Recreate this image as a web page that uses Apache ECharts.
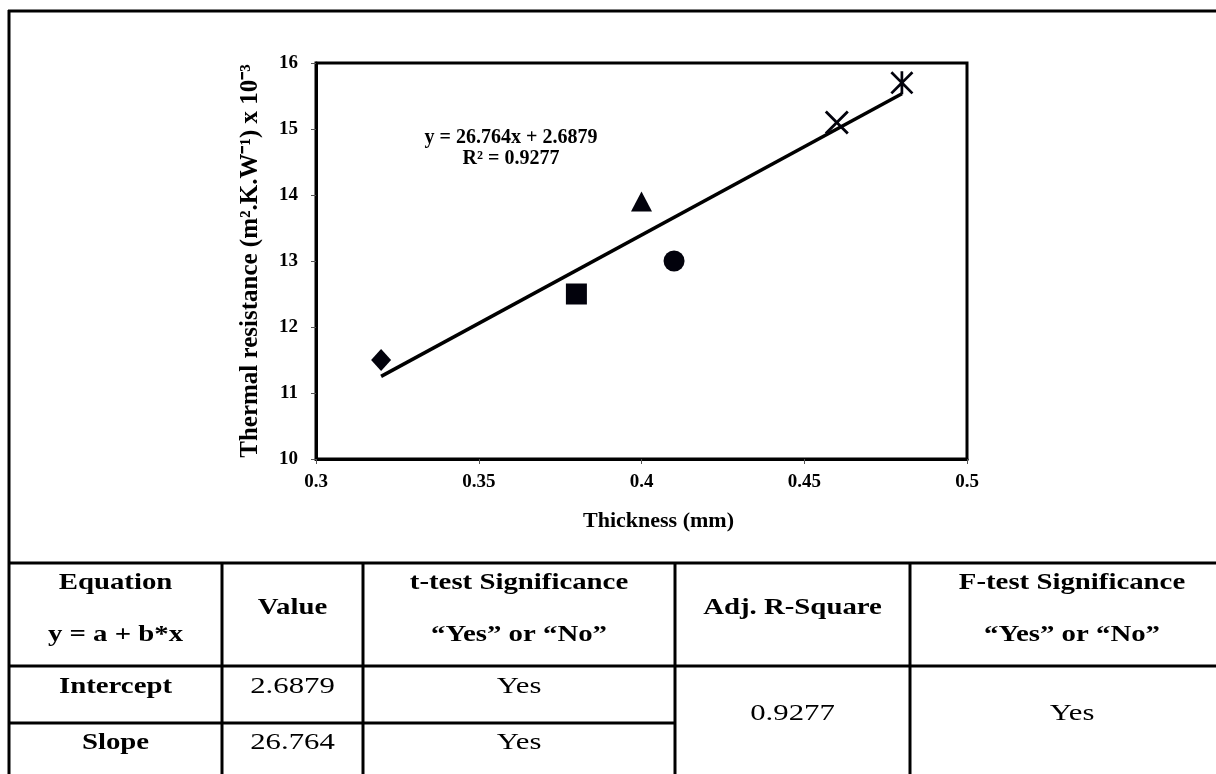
<!DOCTYPE html>
<html>
<head>
<meta charset="utf-8">
<script src="https://cdn.jsdelivr.net/npm/echarts@6/dist/echarts.min.js"></script>
<style>
  html, body { margin: 0; padding: 0; background: #fff; }
  #chart { width: 1216px; height: 774px; }
</style>
</head>
<body>
<div id="chart"></div>
<script>
// Measured samples: thickness (mm) and thermal resistance (m².K.W⁻¹ x 10⁻³)
const diamondPts  = [[0.32, 11.5]];
const squarePts   = [[0.38, 12.5]];
const trianglePts = [[0.40, 13.9]];
const circlePts   = [[0.41, 13.0]];
const crossPts    = [[0.46, 15.1]];
const starPts     = [[0.48, 15.7]];

// Linear fit reported on the chart
const fitSlope = 26.764;
const fitIntercept = 2.6879;
const fitR2 = 0.9277;
const fitRange = [0.32, 0.48];

// Axis ticks
const xTicks = [0.3, 0.35, 0.4, 0.45, 0.5];
const yTicks = [10, 11, 12, 13, 14, 15, 16];

// Regression summary table
const tableHeader = [
  ['Equation', 'y = a + b*x'],
  ['Value'],
  ['t-test Significance', '\u201cYes\u201d or \u201cNo\u201d'],
  ['Adj. R-Square'],
  ['F-test Significance', '\u201cYes\u201d or \u201cNo\u201d']
];
const rowNames = ['Intercept', 'Slope'];
const rowValues = ['2.6879', '26.764'];
const rowTTest = ['Yes', 'Yes'];
const adjR2Text = '0.9277';
const fTestText = 'Yes';

const fitLine = fitRange.map(x => [x, fitSlope * x + fitIntercept]);

const serif = '"Liberation Serif", "Times New Roman", serif';
const ink = '#000';

// cross (x) and asterisk glyphs as filled paths
const crossPath = 'path://M2,0 L12,10 L22,0 L24,2 L14,12 L24,22 L22,24 L12,14 L2,24 L0,22 L10,12 L0,2 Z';
const starPath = 'path://M2,0 L12,10 L22,0 L24,2 L14,12 L24,22 L22,24 L12,14 L2,24 L0,22 L10,12 L0,2 Z M10.6,0 L13.4,0 L13.4,24 L10.6,24 Z';

// Table geometry (last column runs past the right edge of the page)
const tTop = 563, tRow1 = 666, tRow2 = 723, tBottom = 774;
const cols = [9, 222, 363, 675, 910, 1234];
const tableFontB = 'bold 24px ' + serif;
const tableFontR = '24px ' + serif;

// table type is set a little wide, as in the printed layout
function cellText(text, cx, cy, bold) {
  return {
    type: 'text', x: cx, y: cy, scaleX: bold ? 1.2 : 1.28, originX: 0, originY: 0,
    style: { text: text, x: 0, y: 0, font: bold ? tableFontB : tableFontR,
             fill: ink, textAlign: 'center', textVerticalAlign: 'middle' },
    z: 10
  };
}
function hLine(x1, x2, y) {
  return { type: 'line', shape: { x1: x1, y1: y, x2: x2, y2: y },
           style: { stroke: ink, lineWidth: 3 }, z: 10 };
}
function vLine(x, y1, y2) {
  return { type: 'line', shape: { x1: x, y1: y1, x2: x, y2: y2 },
           style: { stroke: ink, lineWidth: 3 }, z: 10 };
}

const graphics = [];
// outer frame (top and left edges) and table rules
graphics.push(hLine(8, 1216, 11));
graphics.push(vLine(9, 10, 774));
graphics.push(hLine(8, 1216, tTop));
graphics.push(hLine(8, 1216, tRow1));
graphics.push(hLine(8, cols[3], tRow2));
for (let i = 1; i < 5; i++) graphics.push(vLine(cols[i], tTop, tBottom));

// header cells
tableHeader.forEach((lines, i) => {
  const cx = (cols[i] + cols[i + 1]) / 2;
  if (lines.length === 2) {
    graphics.push(cellText(lines[0], cx, 583, true));
    graphics.push(cellText(lines[1], cx, 635, true));
  } else {
    graphics.push(cellText(lines[0], cx, 608, true));
  }
});
// body cells
const rowY = [687, 743];
rowNames.forEach((name, r) => {
  graphics.push(cellText(name, (cols[0] + cols[1]) / 2, rowY[r], true));
  graphics.push(cellText(rowValues[r], (cols[1] + cols[2]) / 2, rowY[r], false));
  graphics.push(cellText(rowTTest[r], (cols[2] + cols[3]) / 2, rowY[r], false));
});
graphics.push(cellText(adjR2Text, (cols[3] + cols[4]) / 2, 714, false));
graphics.push(cellText(fTestText, (cols[4] + cols[5]) / 2, 714, false));

// fit equation annotation
graphics.push({
  type: 'text', x: 511, y: 138,
  style: { text: 'y = ' + fitSlope + 'x + ' + fitIntercept, font: 'bold 20px ' + serif,
           fill: ink, textAlign: 'center', textVerticalAlign: 'middle' }, z: 10
});
graphics.push({
  type: 'text', x: 511, y: 159,
  style: { text: 'R\u00b2 = ' + fitR2, font: 'bold 20px ' + serif,
           fill: ink, textAlign: 'center', textVerticalAlign: 'middle' }, z: 10
});

const chart = echarts.init(document.getElementById('chart'), null, { renderer: 'canvas' });

function scatter(name, data, symbol, size) {
  return {
    name: name, type: 'scatter', data: data, symbol: symbol, symbolSize: size,
    itemStyle: { color: '#02020c', opacity: 1 }, z: 5
  };
}

chart.setOption({
  animation: false,
  backgroundColor: '#fff',
  grid: {
    left: 316, right: 249, top: 63, bottom: 315,
    show: true, borderColor: ink, borderWidth: 3, backgroundColor: 'transparent'
  },
  xAxis: {
    type: 'value', min: 0.3, max: 0.5, interval: 0.05,
    name: 'Thickness (mm)', nameLocation: 'middle', nameGap: 51,
    nameTextStyle: { fontFamily: serif, fontWeight: 'bold', fontSize: 22, color: ink,
                     padding: [0, 0, 0, 34] },
    axisLine: { lineStyle: { color: ink, width: 3 } },
    axisTick: { show: true, inside: false, length: 5, lineStyle: { color: '#555', width: 1 } },
    axisLabel: {
      margin: 14, fontFamily: serif, fontWeight: 'bold', fontSize: 19, color: ink,
      formatter: v => { const t = xTicks.find(k => Math.abs(k - v) < 1e-9); return t === undefined ? '' : String(t); }
    },
    splitLine: { show: false }
  },
  yAxis: {
    type: 'value', min: 10, max: 16, interval: 1,
    name: 'Thermal resistance (m\u00b2.K.W\u207b\u00b9) x 10\u207b\u00b3',
    nameLocation: 'middle', nameGap: 53, nameRotate: 90,
    nameTextStyle: { fontFamily: serif, fontWeight: 'bold', fontSize: 25, color: ink },
    axisLine: { show: true, lineStyle: { color: ink, width: 3 } },
    axisTick: { show: true, inside: false, length: 5, lineStyle: { color: '#555', width: 1 } },
    axisLabel: {
      margin: 18, fontFamily: serif, fontWeight: 'bold', fontSize: 19, color: ink,
      formatter: v => (yTicks.indexOf(v) >= 0 ? String(v) : '')
    },
    splitLine: { show: false }
  },
  series: [
    {
      name: 'Linear fit', type: 'line', data: fitLine, symbol: 'none',
      lineStyle: { color: ink, width: 3.5 }, z: 4, silent: true
    },
    scatter('S1', diamondPts, 'diamond', [20, 22]),
    scatter('S2', squarePts, 'rect', 21),
    scatter('S3', trianglePts, 'triangle', [21, 20]),
    scatter('S4', circlePts, 'circle', 21),
    scatter('S5', crossPts, crossPath, 24),
    scatter('S6', starPts, starPath, 23)
  ],
  graphic: graphics
});
</script>
</body>
</html>
